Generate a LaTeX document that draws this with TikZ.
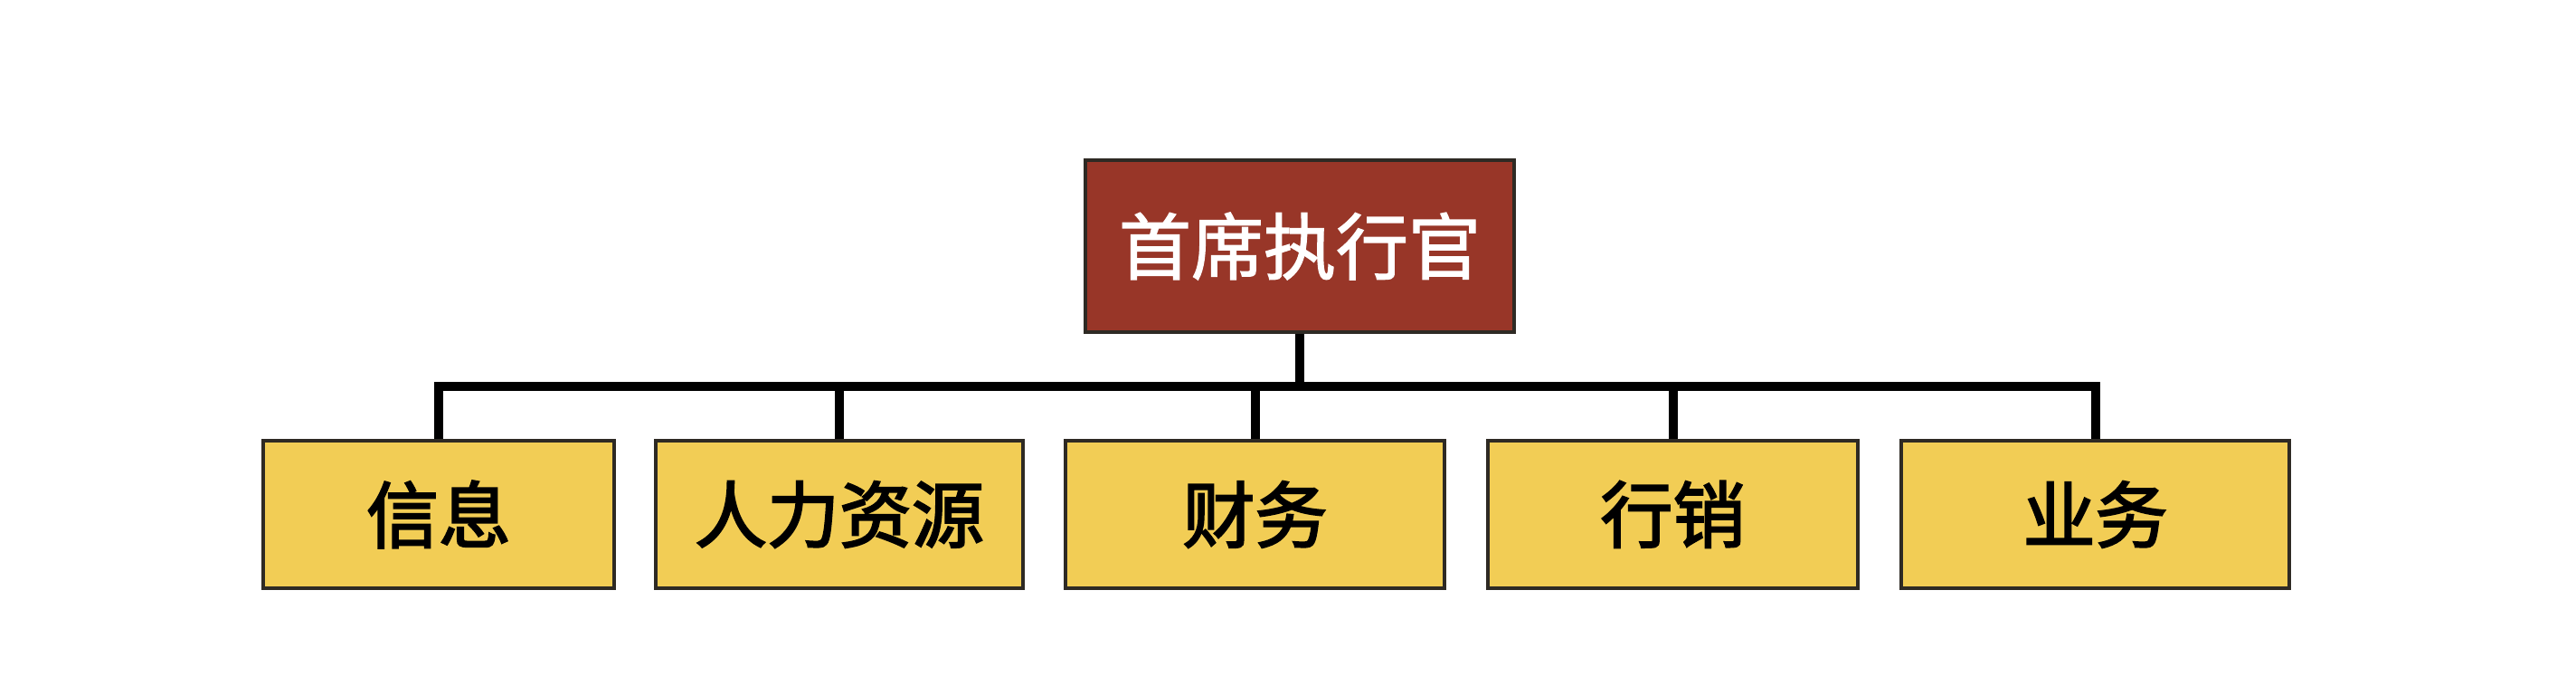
\documentclass[tikz,border=0pt]{standalone}
\usepackage{fontspec}
\newfontfamily\cjkdept[FakeBold=2.6]{Noto Sans CJK SC}
\newfontfamily\cjktop[FakeBold=1.6]{Noto Sans CJK SC}
\definecolor{ceored}{HTML}{983628}
\definecolor{deptyellow}{HTML}{F2CD55}
\definecolor{edge}{HTML}{2E2A24}
\begin{document}
\begin{tikzpicture}[x=1pt,y=1pt,
  boxbase/.style={draw=edge,line width=0.8pt,rectangle,inner sep=0pt},
  ceobox/.style={boxbase,fill=ceored,text=white,minimum width=118.5pt,minimum height=47.5pt,font=\cjktop\fontsize{20}{24}\selectfont},
  deptbox/.style={boxbase,fill=deptyellow,text=black,minimum height=40.75pt,font=\cjkdept\fontsize{20}{24}\selectfont},
  wire/.style={line width=2.5pt,black,line join=miter}]
\useasboundingbox (0,0) rectangle (712,192);
\node[ceobox] (ceo) at (359.25,124) {首席执行官};
\node[deptbox,minimum width=97pt] (d1) at (121.25,49.875) {信息};
\node[deptbox,minimum width=101.5pt] (d2) at (232,49.875) {人力资源};
\node[deptbox,minimum width=104.75pt] (d3) at (346.875,49.875) {财务};
\node[deptbox,minimum width=102.25pt] (d4) at (462.375,49.875) {行销};
\node[deptbox,minimum width=107.25pt] (d5) at (579.125,49.875) {业务};
\coordinate (bus) at (0,85.25);
\draw[wire] (d1.north) |- (d5.north |- bus) -- (d5.north);
\draw[wire] (ceo.south) -- (ceo.south |- bus);
\draw[wire] (d2.north) -- (d2.north |- bus);
\draw[wire] (d3.north) -- (d3.north |- bus);
\draw[wire] (d4.north) -- (d4.north |- bus);
\end{tikzpicture}
\end{document}
